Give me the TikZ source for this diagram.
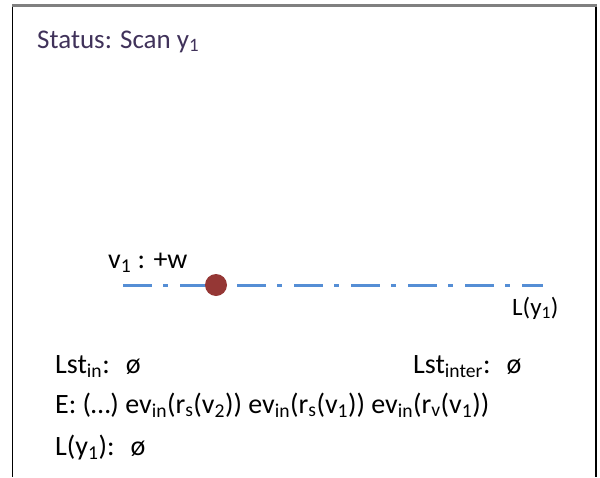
\documentclass[tikz,border=0pt]{standalone}
\usepackage{fontspec}
\setmainfont{Carlito}
\newcommand\sbs[1]{\textsubscript{#1}}
\definecolor{statuscol}{RGB}{64,50,90}
\definecolor{linecol}{RGB}{85,142,213}
\definecolor{dotcol}{RGB}{149,55,53}
\definecolor{topcol}{RGB}{128,128,128}
\begin{document}
\begin{tikzpicture}[x=1pt,y=-1pt,
  txt/.style={anchor=base west,inner sep=0pt,font=\fontsize{28}{34}\selectfont},
  small/.style={anchor=base west,inner sep=0pt,font=\fontsize{25}{30}\selectfont}]
\useasboundingbox (0,0) rectangle (600,477);
% frame
\draw[line width=1.5pt] (12.5,5) -- (12.5,477);
\draw[line width=1.5pt] (596,5) -- (596,477);
\draw[topcol,line width=2.5pt] (11.75,5.5) -- (596.75,5.5);
% status
\node[txt,text=statuscol,font=\fontsize{27}{32}\selectfont] (status) at (37,48) {Status: Scan y\sbs{1}};
% line
\coordinate (la) at (123,285);
\coordinate (lb) at (543,285);
\draw[linecol,line width=3pt,dash pattern=on 29pt off 11pt on 5pt off 12pt] (la) -- (lb);
\node[circle,fill=dotcol,minimum size=22pt,inner sep=0pt] (v1) at (216,285) {};
\node[txt] (v1lab) at (108,268) {v\sbs{1} : +w};
\node[small] (ly) at (512,315) {L(y\sbs{1})};
% bottom texts
\node[txt] (lstin) at (55,373) {Lst\sbs{in}:\hspace{16pt}ø};
\node[txt] (lstinter) at (413,373) {Lst\sbs{inter}:\hspace{16pt}ø};
\node[txt] (ev) at (55,413) {E: (…) ev\sbs{in}(r\sbs{s}(v\sbs{2})) ev\sbs{in}(r\sbs{s}(v\sbs{1})) ev\sbs{in}(r\sbs{v}(v\sbs{1}))};
\node[txt] (lyset) at (55,455) {L(y\sbs{1}):\hspace{16pt}ø};
\end{tikzpicture}
\end{document}
